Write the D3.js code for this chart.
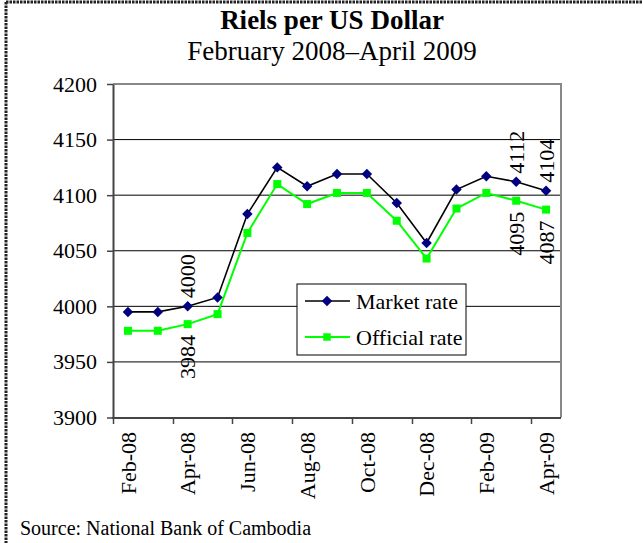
<!DOCTYPE html>
<html>
<head>
<meta charset="utf-8">
<script src="https://cdn.jsdelivr.net/npm/d3@7"></script>
<style>
  body { margin: 0; background: #fff; }
  svg { display: block; font-family: "Liberation Serif", "Times New Roman", serif; }
  svg text { font-family: "Liberation Serif", "Times New Roman", serif; }
</style>
</head>
<body>
<script>
var width = 643,
    height = 543;

// data
var months = ["Feb-08", "Mar-08", "Apr-08", "May-08", "Jun-08", "Jul-08", "Aug-08", "Sep-08",
              "Oct-08", "Nov-08", "Dec-08", "Jan-09", "Feb-09", "Mar-09", "Apr-09"];
var marketRate = [3995, 3995, 4000, 4008, 4083, 4125, 4108, 4119, 4119, 4093, 4057, 4105, 4117, 4112, 4104];
var officialRate = [3978, 3978, 3984, 3993, 4066, 4110, 4092, 4102, 4102, 4077, 4043, 4088, 4102, 4095, 4087];
var yTicks = [3900, 3950, 4000, 4050, 4100, 4150, 4200];
// which points carry a value label
var marketLabels = ["Apr-08", "Mar-09", "Apr-09"];
var officialLabels = ["Apr-08", "Mar-09", "Apr-09"];

var svg = d3.select("body").append("svg")
    .attr("width", width)
    .attr("height", height);

// dashed frame (top + left)
svg.append("path")
  .attr("d", "M6,2H643M6,2V543")
  .attr("fill", "none")
  .attr("stroke", "#222")
  .attr("stroke-width", 3)
  .attr("stroke-dasharray", "2.5,1");

// titles
svg.append("text")
  .attr("x", 332).attr("y", 29)
  .attr("text-anchor", "middle")
  .style("font-size", "27px")
  .style("font-weight", "bold")
  .text("Riels per US Dollar");

svg.append("text")
  .attr("x", 332).attr("y", 60)
  .attr("text-anchor", "middle")
  .style("font-size", "27px")
  .text("February 2008\u2013April 2009");

var x = d3.scaleBand().domain(months).range([113, 561]).padding(0);
var y = d3.scaleLinear().domain([3900, 4200]).range([417.5, 84]);
var cx = function(m) { return x(m) + x.bandwidth() / 2; };

// gridlines
svg.append("g")
  .selectAll("line")
  .data(yTicks.slice(1, -1))
  .enter().append("line")
  .attr("x1", 113).attr("x2", 561)
  .attr("y1", function(d) { return y(d); })
  .attr("y2", function(d) { return y(d); })
  .attr("stroke", "#000")
  .attr("stroke-width", 1);

// plot border top/right
svg.append("path")
  .attr("d", "M113," + y(4200) + "H561V" + y(3900))
  .attr("fill", "none")
  .attr("stroke", "#888")
  .attr("stroke-width", 2);

// y axis
var yAxis = svg.append("g")
  .attr("transform", "translate(113,0)")
  .call(d3.axisLeft(y).tickValues(yTicks).tickFormat(d3.format("d"))
    .tickSize(6).tickPadding(10).tickSizeOuter(0))
  .attr("font-family", null)
  .attr("font-size", null);
yAxis.select(".domain").attr("stroke", "#444").attr("stroke-width", 2);
yAxis.selectAll(".tick line").attr("stroke", "#444").attr("stroke-width", 1.5);
yAxis.selectAll("text")
  .attr("fill", "#000")
  .style("font-size", "22px");

// x axis: ticks at band edges, every second month
var evenMonths = months.filter(function(d, i) { return i % 2 === 0; });
svg.append("line")
  .attr("x1", 112).attr("x2", 561)
  .attr("y1", 418).attr("y2", 418)
  .attr("stroke", "#444").attr("stroke-width", 2);

svg.append("g")
  .selectAll("line")
  .data(evenMonths)
  .enter().append("line")
  .attr("x1", function(d) { return Math.round(x(d)) + 0.5; })
  .attr("x2", function(d) { return Math.round(x(d)) + 0.5; })
  .attr("y1", 418).attr("y2", 424)
  .attr("stroke", "#444").attr("stroke-width", 1.5);

svg.append("g")
  .selectAll("text")
  .data(evenMonths)
  .enter().append("text")
  .attr("transform", function(d) { return "translate(" + cx(d) + ",432) rotate(-90)"; })
  .attr("dy", "0.35em")
  .attr("text-anchor", "end")
  .style("font-size", "22px")
  .text(function(d) { return d; });

// lines
var market = months.map(function(m, i) { return {m: m, v: marketRate[i]}; });
var official = months.map(function(m, i) { return {m: m, v: officialRate[i]}; });

var line = d3.line()
  .x(function(d) { return cx(d.m); })
  .y(function(d) { return y(d.v); });

svg.append("path")
  .datum(official)
  .attr("d", line)
  .attr("fill", "none")
  .attr("stroke", "#00ff00")
  .attr("stroke-width", 2);

svg.append("path")
  .datum(market)
  .attr("d", line)
  .attr("fill", "none")
  .attr("stroke", "#000")
  .attr("stroke-width", 1.6);

svg.append("g")
  .selectAll("rect")
  .data(official)
  .enter().append("rect")
  .attr("x", function(d) { return cx(d.m) - 4; })
  .attr("y", function(d) { return y(d.v) - 4; })
  .attr("width", 8).attr("height", 8)
  .attr("fill", "#00ff00");

var diamond = d3.symbol().type(d3.symbolDiamond2).size(70);
svg.append("g")
  .selectAll("path")
  .data(market)
  .enter().append("path")
  .attr("d", diamond)
  .attr("transform", function(d) { return "translate(" + cx(d.m) + "," + y(d.v) + ")"; })
  .attr("fill", "#000080");

// value labels
svg.append("g")
  .selectAll("text")
  .data(market.filter(function(d) { return marketLabels.indexOf(d.m) >= 0; }))
  .enter().append("text")
  .attr("transform", function(d) { return "translate(" + cx(d.m) + "," + (y(d.v) - 8) + ") rotate(-90)"; })
  .attr("dy", "0.35em")
  .attr("text-anchor", "start")
  .style("font-size", "22px")
  .text(function(d) { return d.v; });

svg.append("g")
  .selectAll("text")
  .data(official.filter(function(d) { return officialLabels.indexOf(d.m) >= 0; }))
  .enter().append("text")
  .attr("transform", function(d) { return "translate(" + cx(d.m) + "," + (y(d.v) + 11) + ") rotate(-90)"; })
  .attr("dy", "0.35em")
  .attr("text-anchor", "end")
  .style("font-size", "22px")
  .text(function(d) { return d.v; });

// legend
var legend = svg.append("g").attr("transform", "translate(297,284)");
legend.append("rect")
  .attr("width", 169).attr("height", 71)
  .attr("fill", "#fff")
  .attr("stroke", "#000").attr("stroke-width", 1);

var legendItems = [
  {name: "Market rate", color: "#000", marker: "#000080", type: "diamond"},
  {name: "Official rate", color: "#00ff00", marker: "#00ff00", type: "square"}
];
var li = legend.selectAll(".li")
  .data(legendItems)
  .enter().append("g")
  .attr("transform", function(d, i) { return "translate(0," + (17 + i * 36) + ")"; });
li.append("line")
  .attr("x1", 8).attr("x2", 53)
  .attr("stroke", function(d) { return d.color; })
  .attr("stroke-width", function(d) { return d.type === "square" ? 2 : 1.6; });
li.append("path")
  .attr("d", function(d) {
    return d3.symbol().type(d.type === "square" ? d3.symbolSquare : d3.symbolDiamond2).size(d.type === "square" ? 56 : 70)();
  })
  .attr("transform", "translate(30,0)")
  .attr("fill", function(d) { return d.marker; });
li.append("text")
  .attr("x", 59)
  .attr("dy", "0.35em")
  .style("font-size", "22px")
  .text(function(d) { return d.name; });

// source
svg.append("text")
  .attr("x", 20).attr("y", 535)
  .style("font-size", "20px")
  .text("Source: National Bank of Cambodia");
</script>
</body>
</html>
